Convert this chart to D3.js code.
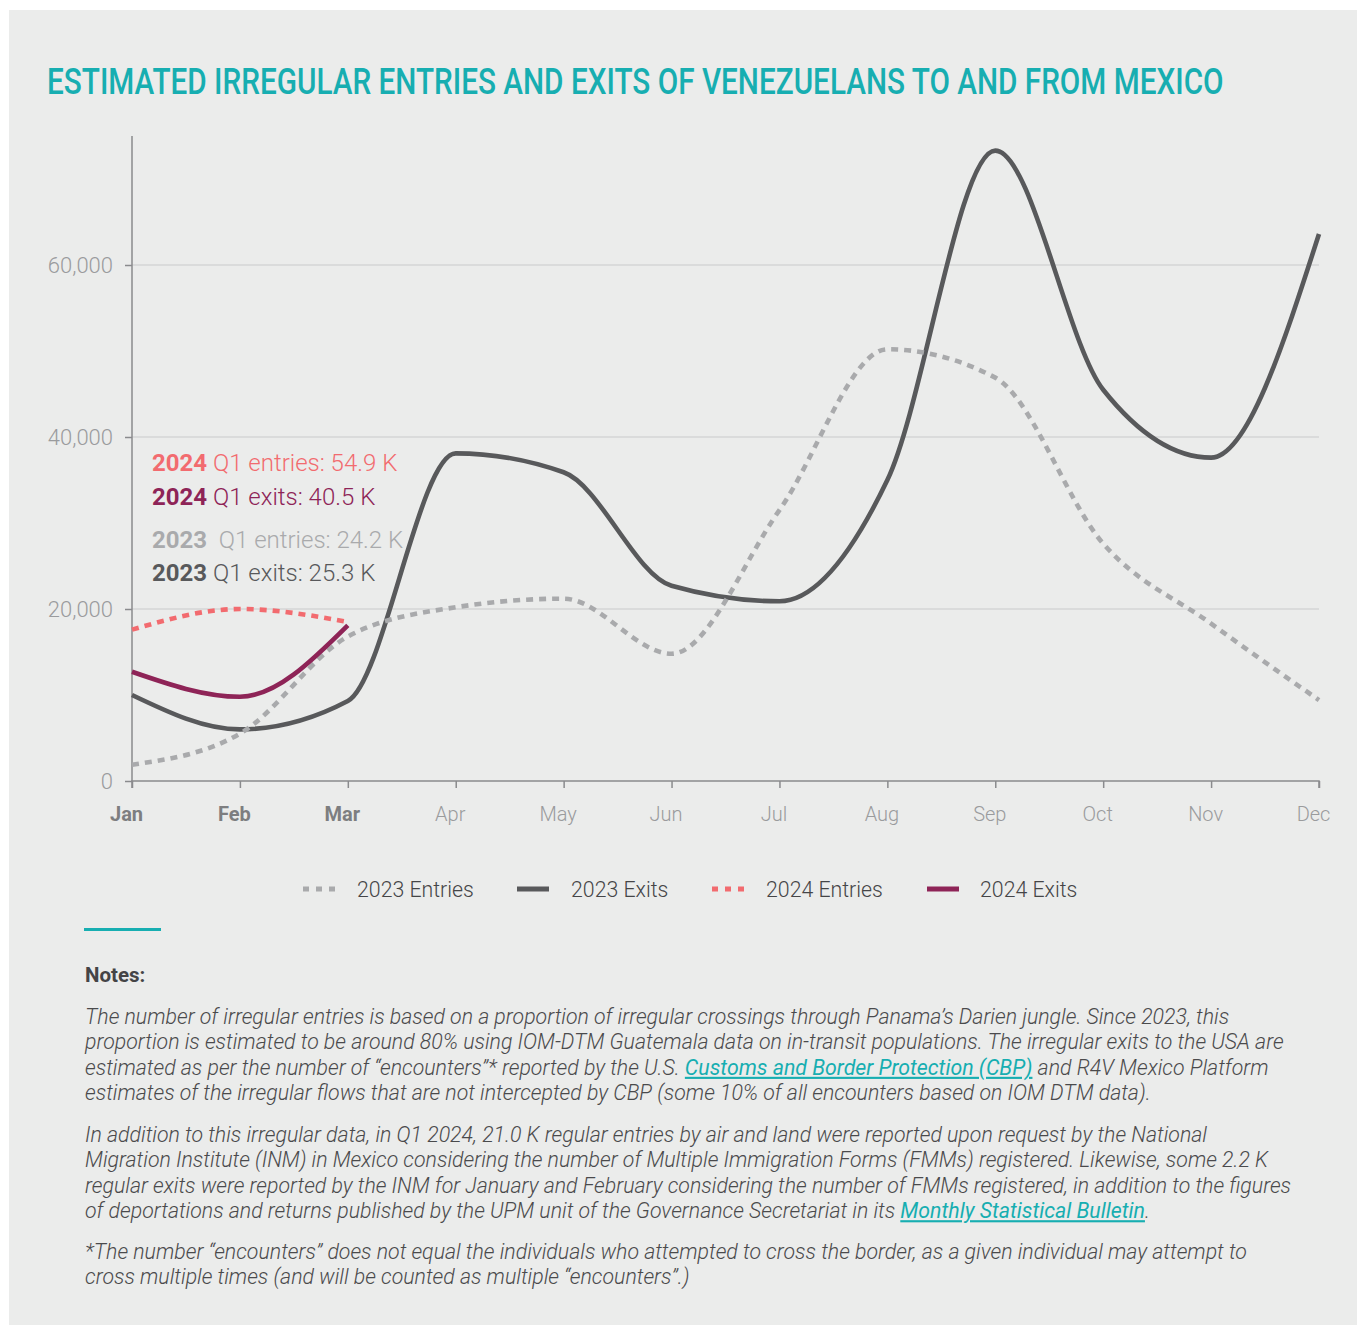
<!DOCTYPE html>
<html>
<head>
<meta charset="utf-8">
<script src="https://cdn.jsdelivr.net/npm/d3@7"></script>
<style>
  html, body { margin: 0; padding: 0; background: #ffffff; }
  svg { display: block; }
  text { font-family: Roboto, "Noto Sans", sans-serif; }
</style>
</head>
<body>
<svg id="chart" width="1362" height="1325"></svg>
<script>
// ---------------- DATA ----------------
const months = ["Jan","Feb","Mar","Apr","May","Jun","Jul","Aug","Sep","Oct","Nov","Dec"];
const boldMonths = ["Jan","Feb","Mar"];
const entries2023 = [1900, 5500, 16800, 20200, 21200, 14800, 31500, 50200, 46900, 27600, 18300, 9400];
const exits2023   = [10000, 6000, 9300, 38100, 35900, 22700, 20900, 35000, 73300, 45500, 37600, 63600];
const entries2024 = [17600, 20000, 18500];
const exits2024   = [12700, 9800, 18100];
const yTicks = [0, 20000, 40000, 60000];
const yMax = 75000;

const seriesNames = ["2023 Entries", "2023 Exits", "2024 Entries", "2024 Exits"];
const seriesColors = ["#a9aaac", "#58595b", "#f26b6f", "#8e2457"];

const titleText = "ESTIMATED IRREGULAR ENTRIES AND EXITS OF VENEZUELANS TO AND FROM MEXICO";
const annotations = [
  {year: "2024", rest: " Q1 entries: 54.9 K", color: "#f26b6f"},
  {year: "2024", rest: " Q1 exits: 40.5 K", color: "#8e2457"},
  {year: "2023", rest: "  Q1 entries: 24.2 K", color: "#a9aaac"},
  {year: "2023", rest: " Q1 exits: 25.3 K", color: "#58595b"}
];

const notesParas = [
  [
    [{t: "The number of irregular entries is based on a proportion of irregular crossings through Panama’s Darien jungle. Since 2023, this"}],
    [{t: "proportion is estimated to be around 80% using IOM-DTM Guatemala data on in-transit populations. The irregular exits to the USA are"}],
    [{t: "estimated as per the number of “encounters”* reported by the U.S. "}, {t: "Customs and Border Protection (CBP)", link: true}, {t: " and R4V Mexico Platform"}],
    [{t: "estimates of the irregular flows that are not intercepted by CBP (some 10% of all encounters based on IOM DTM data)."}]
  ],
  [
    [{t: "In addition to this irregular data, in Q1 2024, 21.0 K regular entries by air and land were reported upon request by the National"}],
    [{t: "Migration Institute (INM) in Mexico considering the number of Multiple Immigration Forms (FMMs) registered. Likewise, some 2.2 K"}],
    [{t: "regular exits were reported by the INM for January and February considering the number of FMMs registered, in addition to the figures"}],
    [{t: "of deportations and returns published by the UPM unit of the Governance Secretariat in its "}, {t: "Monthly Statistical Bulletin", link: true}, {t: "."}]
  ],
  [
    [{t: "*The number “encounters” does not equal the individuals who attempted to cross the border, as a given individual may attempt to"}],
    [{t: "cross multiple times (and will be counted as multiple “encounters”.)"}]
  ]
];

// ---------------- DRAW ----------------
const svg = d3.select("#chart");
const teal = "#17aeb1";

svg.append("rect").attr("x", 9).attr("y", 10).attr("width", 1348).attr("height", 1315).attr("fill", "#ebeceb");

// title, horizontally condensed to the reference width
const titleG = svg.append("g");
const title = titleG.append("text")
  .attr("x", 0).attr("y", 0)
  .attr("font-size", 37).attr("font-weight", 500)
  .attr("fill", teal)
  .text(titleText);
const tLen = title.node().getComputedTextLength();
titleG.attr("transform", `translate(47,94) scale(${1177 / tLen},1)`);

const x = d3.scalePoint().domain(months).range([132, 1319]);
const y = d3.scaleLinear().domain([0, yMax]).range([781, 136]);

// gridlines
svg.append("g").selectAll("line").data(yTicks.filter(d => d > 0)).join("line")
  .attr("x1", 132).attr("x2", 1319)
  .attr("y1", d => y(d)).attr("y2", d => y(d))
  .attr("stroke", "#c9cacb").attr("stroke-width", 1);

// y axis
const yAxis = d3.axisLeft(y).tickValues(yTicks).tickSize(7).tickPadding(12)
  .tickFormat(d3.format(","));
const gy = svg.append("g").attr("transform", "translate(132,0)").call(yAxis);
gy.select(".domain").attr("stroke", "#8a8b8d").attr("stroke-width", 1.5).attr("d", `M0,${y(yMax)}V${y(0)}`);
gy.selectAll(".tick line").attr("stroke", "#8a8b8d").attr("stroke-width", 1.5);
gy.selectAll(".tick text").attr("fill", "#9a9b9d").attr("font-size", 22).attr("font-weight", 300).attr("font-family", "Roboto");

// x axis
const xAxis = d3.axisBottom(x).tickSize(7).tickPadding(19);
const gx = svg.append("g").attr("transform", `translate(0,${y(0)})`).call(xAxis);
gx.select(".domain").attr("stroke", "#8a8b8d").attr("stroke-width", 1.5).attr("d", `M132,7V0H1319V7`);
gx.selectAll(".tick line").attr("stroke", "#8a8b8d").attr("stroke-width", 1.5);
gx.selectAll(".tick text")
  .attr("fill", d => boldMonths.includes(d) ? "#7d7e80" : "#9a9b9d")
  .attr("font-weight", d => boldMonths.includes(d) ? 700 : 300)
  .attr("font-size", 20).attr("font-family", "Roboto")
  .attr("dx", -6);

// lines
const line = d3.line().x((d, i) => x(months[i])).y(d => y(d)).curve(d3.curveMonotoneX);
const seriesData = [entries2023, exits2023, entries2024, exits2024];
const drawOrder = [1, 0, 2, 3];
drawOrder.forEach(k => {
  svg.append("path")
    .datum(seriesData[k])
    .attr("d", line)
    .attr("fill", "none")
    .attr("stroke", seriesColors[k])
    .attr("stroke-width", 4.6)
    .attr("stroke-dasharray", (k === 0 || k === 2) ? "7,6" : null)
    .attr("stroke-linejoin", "round");
});

// annotations
const annY = [471, 505, 548, 581];
annotations.forEach((a, i) => {
  const t = svg.append("text").attr("x", 152).attr("y", annY[i])
    .attr("font-size", 24).attr("fill", a.color).attr("font-weight", 300)
    .attr("xml:space", "preserve").style("white-space", "pre");
  t.append("tspan").attr("font-weight", 700).text(a.year);
  t.append("tspan").text(a.rest);
});

// legend
const legendSymX = [303, 517, 712, 927];
const legendTxtX = [357, 571, 766, 980];
seriesNames.forEach((name, k) => {
  svg.append("line")
    .attr("x1", legendSymX[k]).attr("x2", legendSymX[k] + 32)
    .attr("y1", 889).attr("y2", 889)
    .attr("stroke", seriesColors[k]).attr("stroke-width", 5)
    .attr("stroke-dasharray", (k === 0 || k === 2) ? "6,7" : null);
  svg.append("text").attr("x", legendTxtX[k]).attr("y", 896.5)
    .attr("font-size", 21.3).attr("font-weight", 300).attr("fill", "#454547")
    .text(name);
});

// teal rule
svg.append("rect").attr("x", 84).attr("y", 928).attr("width", 77).attr("height", 3).attr("fill", teal);

// notes
svg.append("text").attr("x", 85).attr("y", 982)
  .attr("font-size", 20.5).attr("font-weight", 700).attr("fill", "#444446").text("Notes:");

const paraStart = [1024, 1142, 1259];
const lh = 25.4;
notesParas.forEach((para, p) => {
  para.forEach((ln, li) => {
    const t = svg.append("text").attr("x", 85).attr("y", paraStart[p] + li * lh)
      .attr("font-size", 21.3).attr("font-style", "italic").attr("font-weight", 300)
      .attr("fill", "#4a4a4c");
    ln.forEach(seg => {
      const ts = t.append("tspan").text(seg.t);
      if (seg.link) ts.attr("fill", teal).attr("font-weight", 400).style("text-decoration", "underline");
    });
  });
});
</script>
</body>
</html>
